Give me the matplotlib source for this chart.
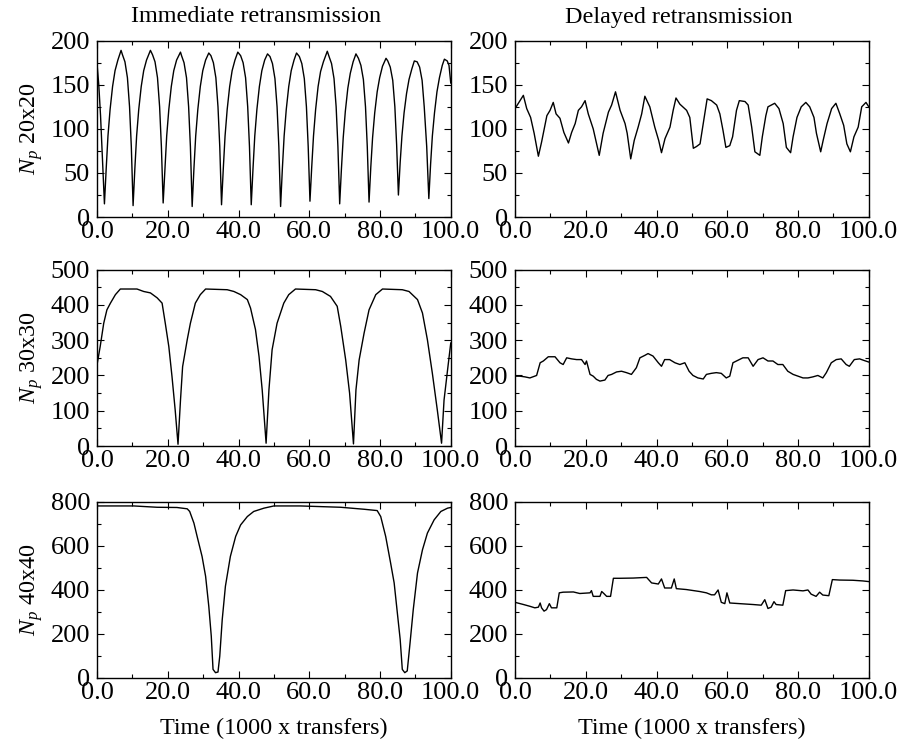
import numpy as np
import matplotlib
matplotlib.use("Agg")
import matplotlib.pyplot as plt
from matplotlib.ticker import MultipleLocator, FormatStrFormatter

plt.rcParams['font.family'] = ['Liberation Serif', 'DejaVu Serif']
plt.rcParams['mathtext.fontset'] = 'custom'
plt.rcParams['mathtext.rm'] = 'Liberation Serif'
plt.rcParams['mathtext.it'] = 'Liberation Serif:italic'

# ---- 20x20, immediate retransmission ----
t_imm20 = [0, 0.5, 1.0, 1.5, 2.1,
           2.6, 3.1, 3.7, 4.4, 5.1, 5.9, 6.8, 7.2, 7.9, 8.6, 9.2, 9.7, 10.2,
           10.7, 11.2, 11.8, 12.5, 13.2, 14.0, 15.1, 15.7, 16.4, 17.1, 17.7, 18.2, 18.7,
           19.2, 19.7, 20.3, 21.0, 21.7, 22.5, 23.6, 23.9, 24.6, 25.3, 25.9, 26.4, 26.9,
           27.4, 27.9, 28.5, 29.2, 29.9, 30.7, 31.6, 32.2, 32.9, 33.6, 34.2, 34.7, 35.2,
           35.7, 36.2, 36.8, 37.5, 38.2, 39.0, 39.8, 40.6, 41.3, 42.0, 42.6, 43.1, 43.6,
           44.1, 44.6, 45.2, 45.9, 46.6, 47.4, 48.2, 48.9, 49.6, 50.3, 50.9, 51.4, 51.9,
           52.4, 52.9, 53.5, 54.2, 54.9, 55.7, 56.4, 57.2, 57.9, 58.6, 59.2, 59.7, 60.2,
           60.7, 61.2, 61.8, 62.5, 63.2, 64.0, 65.1, 65.6, 66.3, 67.0, 67.6, 68.1, 68.6,
           69.1, 69.6, 70.2, 70.9, 71.6, 72.4, 73.2, 73.9, 74.6, 75.3, 75.9, 76.4, 76.9,
           77.4, 77.9, 78.5, 79.2, 79.9, 80.7, 81.7, 82.2, 82.9, 83.6, 84.2, 84.7, 85.2,
           85.7, 86.2, 86.8, 87.5, 88.2, 89.0, 89.7, 90.5, 91.2, 91.9, 92.5, 93.2, 93.8,
           94.3, 94.8, 95.4, 96.1, 96.8, 97.6, 98.2, 99.0, 99.5, 100.0]
n_imm20 = [174, 150, 115, 70, 15,
           55, 92, 122, 148, 166, 178, 189, 184, 176, 158, 125, 80, 13,
           55, 92, 122, 148, 166, 178, 189, 184, 176, 158, 125, 80, 16,
           55, 92, 122, 148, 166, 178, 187, 183, 175, 158, 125, 80, 12,
           55, 92, 122, 148, 166, 178, 186, 183, 175, 158, 125, 80, 14,
           55, 92, 122, 148, 166, 178, 187, 183, 175, 158, 125, 80, 14,
           55, 92, 122, 148, 166, 178, 185, 182, 174, 157, 125, 80, 12,
           55, 92, 122, 148, 166, 178, 186, 182, 174, 157, 125, 80, 18,
           57, 92, 122, 148, 165, 176, 188, 182, 174, 157, 125, 80, 15,
           55, 90, 120, 146, 163, 176, 185, 180, 172, 156, 125, 80, 17,
           57, 90, 118, 142, 158, 171, 180, 177, 170, 155, 125, 82, 25,
           62, 92, 118, 140, 156, 168, 177, 176, 170, 155, 125, 80, 21,
           60, 92, 118, 142, 158, 172, 179, 177, 172, 152]

# ---- 20x20, delayed retransmission ----
t_del20 = [0, 2.35, 3.3, 4.4, 5.4, 6.6, 7.5, 9.0, 9.9, 10.8,
           11.6, 12.7, 13.8, 15.1, 16.0, 17.0, 17.9, 18.8, 19.8, 20.7,
           22.1, 23.8, 24.9, 26.4, 27.3, 28.4, 29.7, 31.1, 31.7, 32.7,
           33.7, 34.8, 35.8, 36.7, 38.1, 39.5, 40.6, 41.4, 42.4, 43.8,
           44.7, 45.5, 46.6, 48.5, 49.4, 50.4, 51.3, 52.3, 53.2, 54.3,
           55.5, 57.0, 57.9, 58.8, 59.6, 60.7, 61.5, 62.6, 63.4, 65.0,
           65.9, 66.9, 67.8, 69.2, 69.9, 70.9, 71.5, 73.4, 74.6, 75.8,
           76.7, 77.9, 78.6, 79.7, 80.9, 82.2, 83.3, 84.5, 85.2, 86.4,
           87.1, 88.2, 89.5, 90.7, 91.8, 92.9, 93.8, 94.8, 95.8, 97.0,
           98.0, 99.2, 100.0]
n_del20 = [123, 138, 123, 113, 95, 69, 85, 115, 121, 130,
           117, 112, 96, 84, 96, 106, 121, 125, 132, 117,
           100, 70, 95, 119, 127, 142, 121, 106, 95, 66,
           87, 102, 117, 137, 125, 102, 87, 73, 89, 102,
           121, 135, 128, 121, 113, 78, 80, 83, 106, 134,
           132, 127, 117, 98, 79, 81, 91, 121, 132, 131,
           127, 102, 74, 70, 91, 115, 125, 129, 123, 106,
           79, 73, 91, 113, 125, 130, 125, 113, 95, 74,
           87, 106, 123, 129, 117, 104, 83, 74, 91, 102,
           125, 130, 125]

# ---- 30x30, immediate retransmission ----
t_imm30 = [0, 0.9, 1.9, 2.8, 3.8, 5.2, 6.6, 11.3, 13.2, 15.1, 17.0, 18.4, 19.3, 20.3, 21.2, 22.1, 22.9,
           23.6, 24.2, 25.5, 26.4, 27.8, 29.2, 30.7, 36.8, 38.7, 40.6, 42.5, 43.4, 44.8, 45.8, 46.7, 47.8,
           48.6, 49.5, 50.9, 52.8, 54.2, 56.1, 61.8, 63.7, 66.0, 67.9, 68.9, 70.3, 71.4, 72.5,
           73.2, 74.1, 75.5, 76.9, 78.8, 80.7, 86.3, 88.2, 90.6, 92.0, 93.4, 94.8, 96.2, 97.4,
           98.1, 99.1, 100.0]
n_imm30 = [230, 282, 348, 386, 405, 429, 445, 445, 438, 434, 420, 405, 348, 282, 197, 102, 5,
           130, 225, 301, 348, 405, 429, 445, 443, 438, 429, 415, 391, 330, 254, 159, 8,
           159, 273, 348, 405, 429, 445, 443, 438, 424, 396, 339, 244, 150, 6,
           159, 244, 320, 386, 429, 445, 443, 438, 415, 377, 301, 206, 102, 8,
           130, 216, 292]

# ---- 30x30, delayed retransmission ----
t_del30 = [0, 1.4, 2.8, 4.2, 6.1, 7.1, 8.0, 9.4, 11.3, 12.7, 13.6, 14.6, 16.0, 17.4, 18.8, 19.8,
           20.2, 21.2, 22.1, 23.0, 24.0, 25.4, 26.3, 27.3, 28.7, 30.1, 31.5, 32.9, 34.3, 35.3,
           36.7, 37.6, 39.0, 40.5, 41.4, 42.3, 43.7, 45.2, 46.6, 48.0, 49.2, 50.3, 51.7, 53.2,
           54.1, 55.5, 56.9, 58.3, 59.7, 60.7, 61.6, 63.0, 64.4, 65.9, 67.3, 68.7, 70.1, 71.5,
           72.9, 74.3, 75.7, 77.1, 78.6, 80.0, 81.4, 82.8, 84.2, 85.6, 87.0, 88.0, 89.4, 90.8,
           92.2, 93.6, 94.5, 95.9, 97.4, 98.8, 100.0]
n_del30 = [198, 198, 196, 193, 200, 236, 241, 253, 253, 236, 231, 250, 247, 245, 245, 231,
           241, 203, 198, 189, 184, 187, 200, 203, 210, 212, 208, 203, 222, 250,
           257, 262, 255, 236, 226, 245, 245, 236, 231, 236, 212, 200, 193, 190,
           203, 206, 208, 206, 193, 198, 236, 243, 250, 250, 226, 245, 250, 241,
           241, 231, 231, 212, 203, 198, 193, 193, 196, 200, 193, 208, 236, 245,
           247, 231, 226, 245, 247, 242, 238]

# ---- 40x40, immediate retransmission ----
t_imm40 = [0, 10.4, 17.0, 22.6, 25.5, 26.2, 27.4, 28.3, 29.7, 30.7, 31.6, 32.3, 32.8, 33.5, 34.2,
           34.7, 35.4, 36.3, 37.7, 39.2, 40.6, 42.5, 44.3, 47.2, 50.0, 57.5, 63.2, 68.9, 75.5,
           79.2, 80.2, 81.6, 83.0, 84.0, 84.9, 85.7, 86.3, 87.0, 87.7, 88.5, 89.4, 90.6, 92.0,
           93.4, 95.3, 97.2, 99.1, 100.0]
n_imm40 = [780, 780, 774, 773, 767, 755, 702, 642, 551, 461, 325, 190, 39, 24, 27,
           99, 265, 416, 551, 642, 694, 732, 755, 770, 780, 780, 777, 774, 765,
           759, 732, 642, 521, 431, 295, 175, 39, 24, 32, 160, 310, 476, 581,
           657, 717, 755, 770, 773]

# ---- 40x40, delayed retransmission ----
t_del40 = [0, 2.4, 4.2, 5.6, 6.6, 7.1, 7.5, 8.2, 8.9, 9.7, 10.3, 11.8, 12.5, 13.6, 16.5, 18.3,
           21.2, 21.6, 22.1, 24.0, 24.5, 25.1, 25.9, 27.0, 27.8, 29.6, 33.4, 37.2, 38.6, 40.5,
           41.4, 42.3, 44.2, 45.0, 45.6, 48.4, 52.2, 54.1, 55.5, 56.4, 57.4, 58.3, 59.3, 59.9,
           60.7, 63.5, 67.3, 69.6, 70.6, 71.5, 72.4, 73.2, 73.8, 75.7, 76.5, 78.6, 81.4, 82.8,
           83.7, 85.1, 86.1, 87.0, 88.7, 89.7, 91.7, 95.5, 98.3, 100.0]
n_del40 = [343, 333, 325, 318, 321, 340, 318, 303, 310, 337, 318, 318, 386, 389, 390, 383,
           386, 396, 370, 370, 392, 383, 370, 370, 452, 452, 453, 456, 431, 426,
           449, 408, 408, 449, 405, 401, 392, 386, 377, 377, 399, 343, 337, 386,
           340, 337, 333, 330, 355, 315, 321, 346, 333, 330, 396, 399, 395, 399,
           380, 370, 389, 376, 373, 446, 444, 443, 440, 437]

col_titles = ["Immediate retransmission", "Delayed retransmission"]
x_title = "Time (1000 x transfers)"

rows = [("20x20", t_imm20, n_imm20, t_del20, n_del20, 200, 50, 25),
        ("30x30", t_imm30, n_imm30, t_del30, n_del30, 500, 100, 50),
        ("40x40", t_imm40, n_imm40, t_del40, n_del40, 800, 200, 100)]

fig = plt.figure(figsize=(8.99, 7.46), dpi=100)
lefts = [0.1079, 0.5729]
width = 0.3935
bottoms = [0.709, 0.4021, 0.0912]
height = 0.2365

for r, (size, t1, n1, t2, n2, ymax, ymaj, ymin) in enumerate(rows):
    for c, (tt, nn) in enumerate([(t1, n1), (t2, n2)]):
        ax = fig.add_axes([lefts[c], bottoms[r], width, height])
        ax.plot(tt, nn, color='black', lw=1.0)
        ax.set_xlim(0, 100)
        ax.set_ylim(0, ymax)
        ax.xaxis.set_major_locator(MultipleLocator(20))
        ax.xaxis.set_minor_locator(MultipleLocator(10))
        ax.yaxis.set_major_locator(MultipleLocator(ymaj))
        ax.yaxis.set_minor_locator(MultipleLocator(ymin))
        ax.xaxis.set_major_formatter(FormatStrFormatter('%.1f'))
        ax.tick_params(which='both', direction='in', top=True, right=True,
                       labelsize=19)
        ax.tick_params(axis='x', which='both', pad=3)
        ax.tick_params(axis='y', which='both', pad=5)
        ax.tick_params(which='major', length=5, width=0.8)
        ax.tick_params(which='minor', length=3, width=0.8)
        for sp in ax.spines.values():
            sp.set_linewidth(1.0)
        if c == 0:
            ax.set_ylabel(r"$N_p$ " + size, fontsize=17.4, labelpad=4)
        if r == 2:
            ax.set_xlabel(x_title, fontsize=17.4, labelpad=10)

fig.text(256 / 899, 1 - 17 / 746, col_titles[0], fontsize=17.4, ha='center', va='center')
fig.text(679 / 899, 1 - 17 / 746, col_titles[1], fontsize=17.4, ha='center', va='center')

fig.savefig("out.png", dpi=100)
